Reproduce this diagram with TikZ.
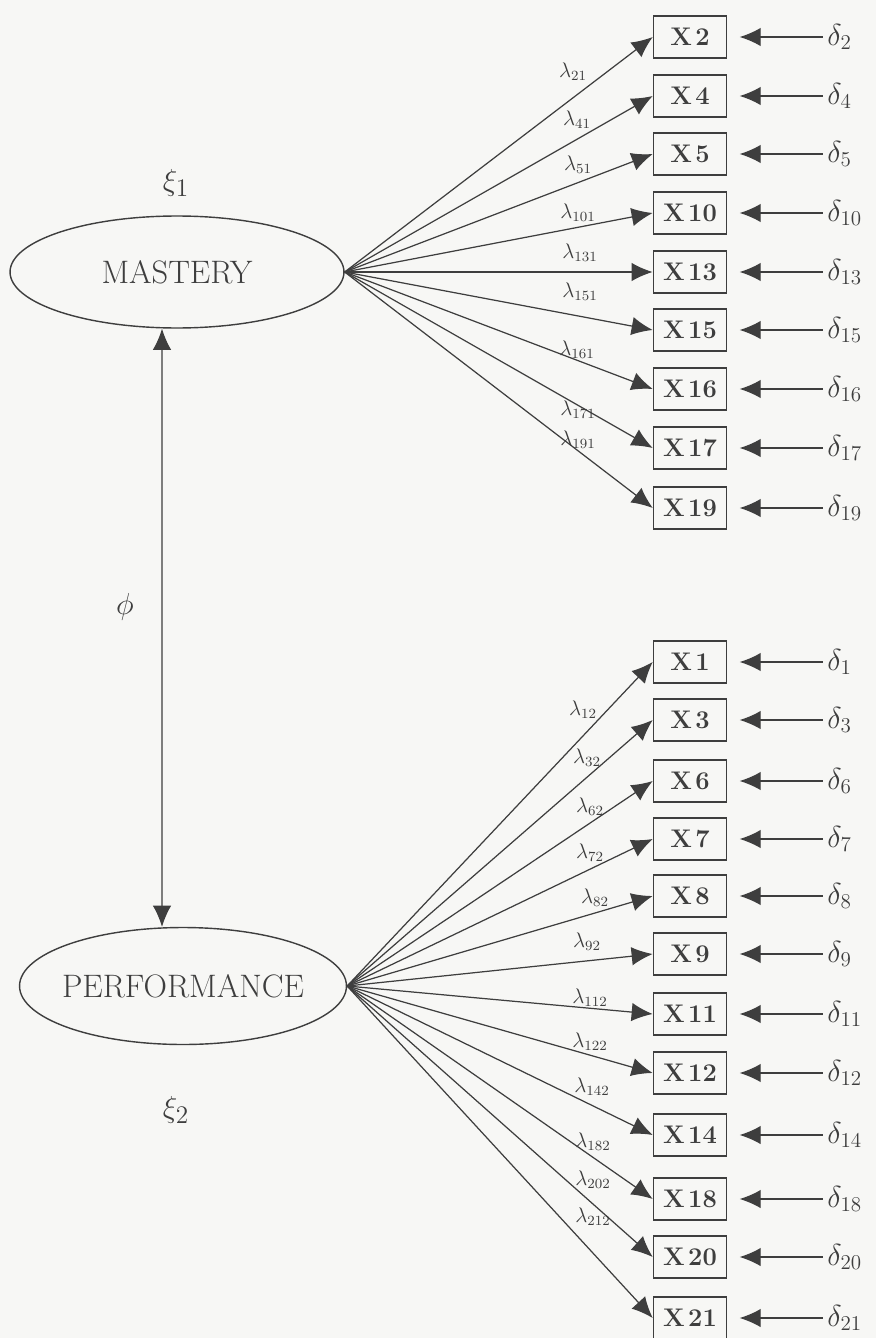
\documentclass[tikz,border=0pt]{standalone}
\usepackage{xcolor}
\usepackage{tikz}
\usetikzlibrary{shapes.geometric,arrows.meta}

\definecolor{ink}{RGB}{62,62,62}
\definecolor{paper}{RGB}{247,247,245}

\begin{document}
\begin{tikzpicture}[
	x=0.02cm, y=-0.02cm,
	every node/.style={text=ink},
	factor/.style={draw=ink, ellipse, line width=0.8pt, inner ysep=0pt, inner xsep=-2cm,
		font=\fontsize{18.5}{20}\selectfont},
	item/.style={draw=ink, rectangle, line width=0.9pt, inner sep=0pt,
		minimum width=1.46cm, minimum height=0.84cm,
		font=\fontsize{14.5}{16}\selectfont\bfseries},
	load/.style={draw=ink, line width=0.7pt, ->, >={Latex[length=12pt,width=10.5pt]}},
	err/.style={draw=ink, line width=0.7pt, <-, >={Latex[length=12pt,width=10.5pt]},
		shorten <=7pt, shorten >=2pt},
	lam label/.style={inner sep=0pt, font=\fontsize{12}{14}\selectfont},
	err label/.style={inner sep=0pt, anchor=west, font=\fontsize{17}{19}\selectfont},
	greek/.style={inner sep=0pt, font=\fontsize{19}{21}\selectfont}
	]
	\fill[paper] (0,0) rectangle (876,1338);
	\useasboundingbox (0,0) rectangle (876,1338);

	% the two factors
	\node[factor, minimum width=6.68cm, minimum height=2.24cm] (mastery) at (177,272) {MASTERY};
	\node[factor, minimum width=6.54cm, minimum height=2.34cm] (perf) at (183,986) {PERFORMANCE};
	\node[greek] (xi1) at (176,183) {$\xi_{1}$};
	\node[greek] (xi2) at (176,1110) {$\xi_{2}$};
	\node[greek] (phi) at (125,607) {$\phi$};
	\draw[load, <->] ([xshift=-0.3cm]mastery.south) -- ([xshift=-0.42cm]perf.north);

	% indicators of MASTERY
	\foreach \n/\y/\lx/\ly in {2/37/573/72, 4/96/577/120, 5/154/578/165,
		10/213/578/213, 13/272/580/253, 15/330/580/292, 16/389/577/350,
		17/448/578/410, 19/508/578/440} {
		\node[item] (x\n) at (690,\y) {X\kern2pt\n};
		\node[err label] (d\n) at (827,\y) {$\delta_{\n}$};
		\node[lam label] (l\n) at (\lx,\ly) {$\lambda_{\n1}$};
		\draw[load] (mastery.east) -- (x\n.west);
		\draw[err] (x\n.east) -- (d\n.west);
	}

	% indicators of PERFORMANCE
	\foreach \n/\y/\lx/\ly in {1/662/583/710, 3/720/587/758, 6/781/590/807,
		7/839/590/853, 8/896/595/898, 9/954/587/942, 11/1014/590/998,
		12/1073/590/1042, 14/1135/592/1087, 18/1199/593/1142,
		20/1257/593/1180, 21/1318/593/1217} {
		\node[item] (x\n) at (690,\y) {X\kern2pt\n};
		\node[err label] (d\n) at (827,\y) {$\delta_{\n}$};
		\node[lam label] (l\n) at (\lx,\ly) {$\lambda_{\n2}$};
		\draw[load] (perf.east) -- (x\n.west);
		\draw[err] (x\n.east) -- (d\n.west);
	}
\end{tikzpicture}
\end{document}
